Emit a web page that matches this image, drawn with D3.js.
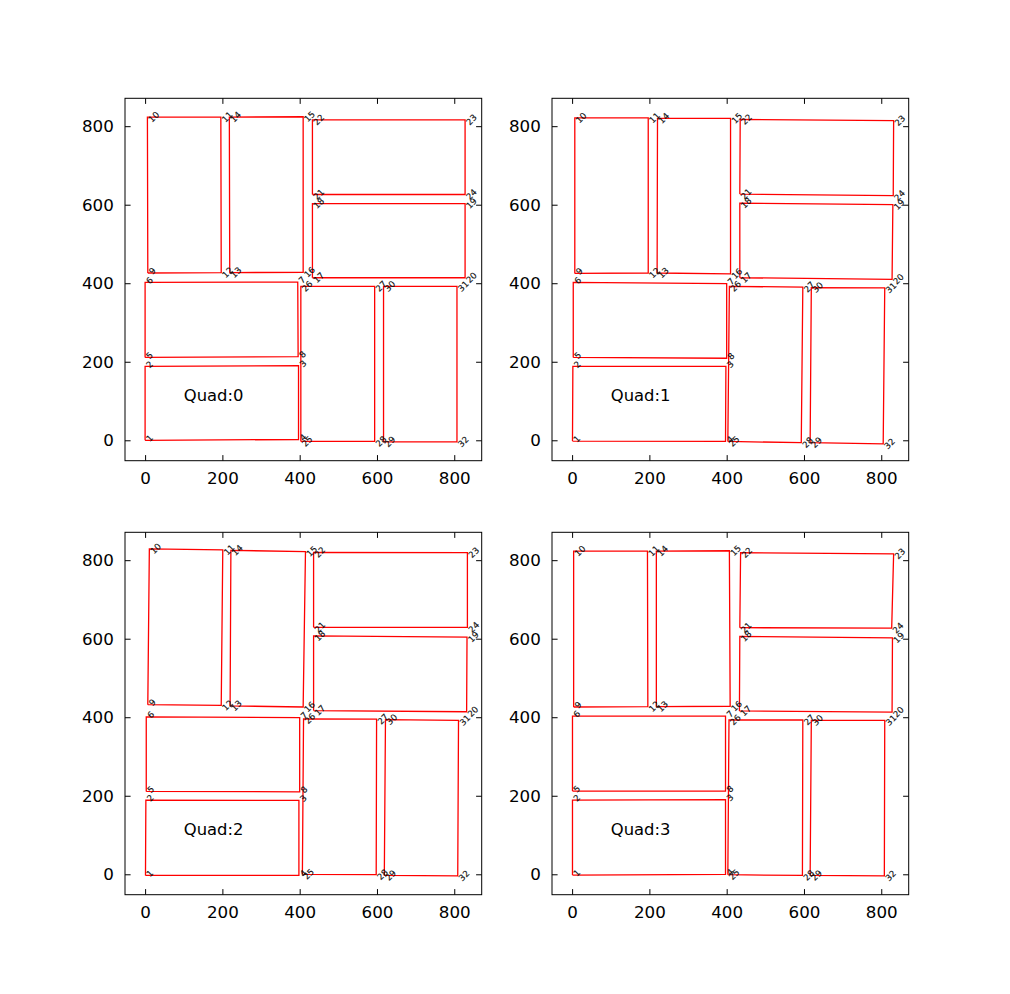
<!DOCTYPE html>
<html>
<head>
<meta charset="utf-8">
<script src="https://cdn.jsdelivr.net/npm/d3@7"></script>
<style>
  html, body { margin: 0; padding: 0; background: #fff; }
  svg { display: block; font-family: "DejaVu Sans", sans-serif; }
</style>
</head>
<body>
<svg id="chart" width="1010" height="994"></svg>
<script>
// ---- data ----
const pointLabels = d3.range(1, 33).map(String);
const rectangles = [[0,1,2,3],[4,5,6,7],[8,9,10,11],[12,13,14,15],[16,17,18,19],[20,21,22,23],[24,25,26,27],[28,29,30,31]];
const tickValues = [0, 200, 400, 600, 800];
const tickLabels = ["0", "200", "400", "600", "800"];
const quadTitles = ["Quad:0", "Quad:1", "Quad:2", "Quad:3"];
const titlePos = [100, 100];
const axisDomain = [-52, 871];

const quad0X = [0,0,397,397, 0,0,395,396, 7,6,196,197, 219,218,409,409, 433,433,828,828, 433,433,828,828, 403,403,594,594, 617,617,807,807];
const quad0Y = [0,188,190,2, 211,402,403,213, 426,823,823,427, 427,823,824,428, 414,603,603,414, 626,816,816,626, -3,392,392,-3, -4,392,392,-4];
const quad1X = [1,2,398,397, 3,3,400,400, 7,7,197,197, 220,221,410,410, 434,434,830,828, 434,435,832,831, 403,407,597,593, 616,619,809,805];
const quad1Y = [-2,188,188,-3, 211,402,399,209, 425,821,821,426, 426,820,820,424, 414,604,600,410, 627,817,814,623, -3,392,390,-6, -6,389,388,-9];
const quad2X = [1,2,398,398, 3,3,400,400, 7,11,201,197, 220,222,415,409, 436,436,833,832, 436,436,834,834, 407,410,599,598, 619,622,811,809];
const quad2Y = [-3,189,188,-3, 211,401,399,210, 432,829,826,430, 429,825,822,426, 417,607,604,414, 629,820,819,629, 0,396,395,-1, -3,394,392,-4];
const quad3X = [1,1,397,397, 1,1,397,397, 4,4,195,196, 218,218,407,409, 433,434,829,828, 434,436,832,827, 403,406,597,596, 616,619,809,808];
const quad3Y = [-2,189,190,0, 212,403,403,212, 426,823,823,427, 427,823,824,428, 416,606,602,413, 628,819,816,627, -1,393,393,-3, -3,392,392,-4];

const quadsX = [quad0X, quad1X, quad2X, quad3X];
const quadsY = [quad0Y, quad1Y, quad2Y, quad3Y];

// ---- layout ----
const axLefts = [125, 552];
const axTops = [98.3, 532.3];
const axW = 356.7, axH = 362.4;
const tickLen = 5.6, tickPad = 5.6;
const tickFont = 16.7, labelFont = 8.6, titleFont = 16.4;

const svg = d3.select("#chart");

for (let q = 0; q < 4; q++) {
  const left = axLefts[q % 2], top = axTops[Math.floor(q / 2)];
  const g = svg.append("g").attr("transform", `translate(${left},${top})`);
  const x = d3.scaleLinear().domain(axisDomain).range([0, axW]);
  const y = d3.scaleLinear().domain(axisDomain).range([axH, 0]);
  const xs = quadsX[q], ys = quadsY[q];

  // polygons
  const line = d3.line().x(i => x(xs[i])).y(i => y(ys[i]));
  rectangles.forEach(r => {
    g.append("path")
      .attr("d", line([...r, r[0]]))
      .attr("fill", "none")
      .attr("stroke", "#ff0000")
      .attr("stroke-width", 1.3)
      .attr("stroke-linejoin", "miter");
  });

  // point labels, rotated 45deg, aligned like matplotlib (bbox left at x, top at y-ascent)
  const asc = 0.76 * labelFont;
  pointLabels.forEach((lab, i) => {
    const px = x(xs[i]), py = y(ys[i]);
    const t = g.append("text")
      .attr("font-size", labelFont)
      .attr("fill", "#111")
      .attr("stroke", "#111")
      .attr("stroke-width", 0.15)
      .text(lab);
    const w = t.node().getComputedTextLength();
    const ax = px + 0.707 * asc;
    const ay = py - asc + 0.707 * (w + asc);
    t.attr("transform", `translate(${ax},${ay}) rotate(-45)`);
  });

  // title text
  g.append("text")
    .attr("x", x(titlePos[0]))
    .attr("y", y(titlePos[1]))
    .attr("font-size", titleFont)
    .attr("fill", "#000")
    .text(quadTitles[q]);

  // frame
  g.append("rect")
    .attr("x", 0).attr("y", 0).attr("width", axW).attr("height", axH)
    .attr("fill", "none").attr("stroke", "#000").attr("stroke-width", 1);

  // axes (ticks inward on all four sides)
  const bottomAxis = d3.axisBottom(x).tickValues(tickValues).tickFormat((d, i) => tickLabels[i]).tickSizeInner(-tickLen).tickSizeOuter(0).tickPadding(tickPad + tickLen);
  const leftAxis = d3.axisLeft(y).tickValues(tickValues).tickFormat((d, i) => tickLabels[i]).tickSizeInner(-tickLen).tickSizeOuter(0).tickPadding(tickPad + tickLen);
  const topAxis = d3.axisTop(x).tickValues(tickValues).tickFormat("").tickSizeInner(-tickLen).tickSizeOuter(0);
  const rightAxis = d3.axisRight(y).tickValues(tickValues).tickFormat("").tickSizeInner(-tickLen).tickSizeOuter(0);

  const styleAxis = sel => {
    sel.select(".domain").remove();
    sel.selectAll(".tick line").attr("stroke", "#000").attr("stroke-width", 1);
    sel.selectAll(".tick text").attr("font-size", tickFont).attr("fill", "#000").attr("font-family", "DejaVu Sans");
  };
  g.append("g").attr("transform", `translate(0,${axH})`).call(bottomAxis).call(styleAxis);
  g.append("g").call(leftAxis).call(styleAxis);
  g.append("g").call(topAxis).call(styleAxis);
  g.append("g").attr("transform", `translate(${axW},0)`).call(rightAxis).call(styleAxis);
  g.selectAll("text").attr("font-family", "DejaVu Sans");
}
</script>
</body>
</html>
